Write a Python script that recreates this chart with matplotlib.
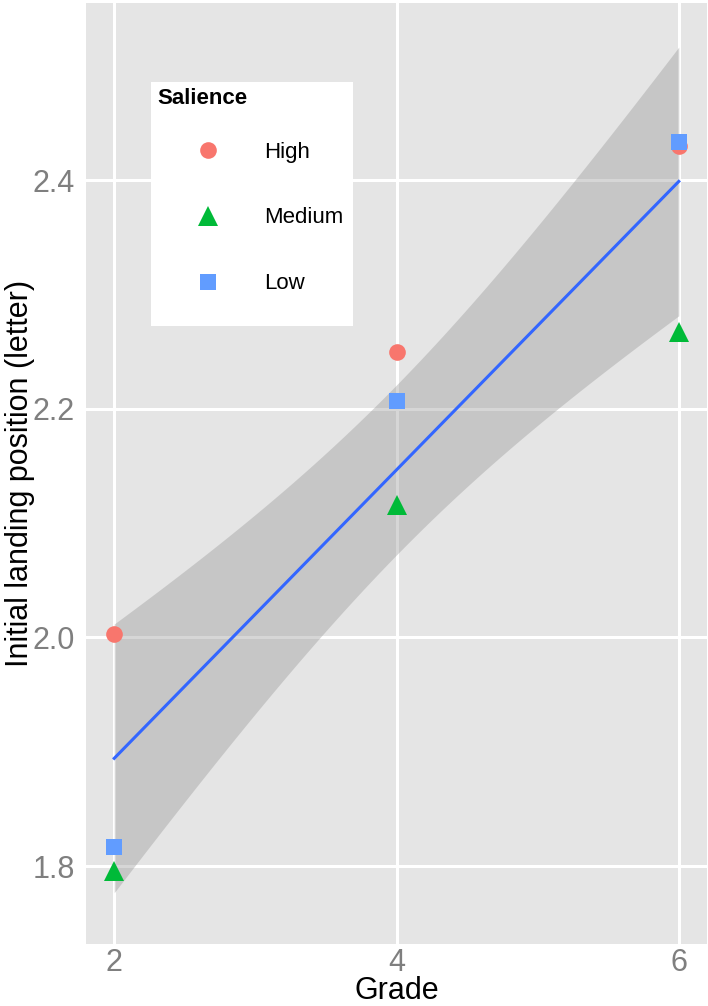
import matplotlib
matplotlib.use("Agg")
import matplotlib.pyplot as plt
from matplotlib.lines import Line2D
import numpy

grades = [2, 4, 6]
salience_levels = ["High", "Medium", "Low"]
landing_high = [2.003, 2.250, 2.430]
landing_medium = [1.796, 2.116, 2.267]
landing_low = [1.817, 2.207, 2.433]

COLORS = {"High": "#F8766D", "Medium": "#00BA38", "Low": "#619CFF"}
MARKERS = {"High": ("o", 12), "Medium": ("^", 14), "Low": ("s", 11.5)}
T_975_DF7 = 2.3646  # t quantile for 95% band, 9 points - 2

plt.rcParams['font.family'] = ['Liberation Sans', 'DejaVu Sans']

fig = plt.figure(figsize=(7.08, 10.06), dpi=100)
ax = fig.add_axes([86 / 708, 62 / 1006, 621 / 708, 941 / 1006])
ax.set_facecolor("#E5E5E5")
for s in ax.spines.values():
    s.set_visible(False)

values = {"High": landing_high, "Medium": landing_medium, "Low": landing_low}

# smooth: linear fit over all points with 95% confidence band
xs = numpy.array(grades * 3, dtype=float)
ys = numpy.array(landing_high + landing_medium + landing_low)
slope, intercept = numpy.polyfit(xs, ys, 1)
resid = ys - (slope * xs + intercept)
s_err = numpy.sqrt(numpy.sum(resid ** 2) / (len(xs) - 2))
sxx = numpy.sum((xs - xs.mean()) ** 2)
x_fit = numpy.linspace(min(grades), max(grades), 80)
y_fit = slope * x_fit + intercept
se_fit = s_err * numpy.sqrt(1.0 / len(xs) + (x_fit - xs.mean()) ** 2 / sxx)
ax.fill_between(x_fit, y_fit - T_975_DF7 * se_fit, y_fit + T_975_DF7 * se_fit,
                color="#999999", alpha=0.4, linewidth=0, zorder=2)
ax.plot(x_fit, y_fit, color="#3366FF", linewidth=2.2, zorder=3)

for level in salience_levels:
    m, ms = MARKERS[level]
    ax.plot(grades, values[level], linestyle="none", marker=m, markersize=ms,
            color=COLORS[level], markeredgewidth=0, zorder=4)

ax.set_xlim(1.8, 6.2)
ax.set_ylim(1.7318, 2.555)
ax.set_xticks([2, 4, 6])
ax.set_yticks([1.8, 2.0, 2.2, 2.4])
ax.set_yticklabels(["1.8", "2.0", "2.2", "2.4"])
ax.grid(True, color="white", linewidth=2.2, zorder=1)
ax.set_axisbelow(True)
ax.tick_params(length=0, labelsize=22, labelcolor="#7F7F7F")
ax.tick_params(axis="y", pad=8)
ax.tick_params(axis="x", pad=3)
ax.set_xlabel("Grade", fontsize=22)
ax.set_ylabel("Initial landing position (letter)", fontsize=22)
ax.xaxis.set_label_coords(0.5, (1006 - 999 - 62) / 941)
ax.yaxis.set_label_coords(-0.107, 0.5)
ax.xaxis.label.set_va("baseline")
ax.yaxis.label.set_va("center")

# legend in a white box inside the panel
lax = fig.add_axes([151 / 708, (1006 - 326) / 1006, 202 / 708, 244 / 1006])
lax.set_facecolor("white")
lax.set_xticks([])
lax.set_yticks([])
for s in lax.spines.values():
    s.set_visible(False)
lax.text(0.03, 0.934, "Salience", fontsize=16, fontweight="bold",
         ha="left", va="center", transform=lax.transAxes)
handles = [Line2D([], [], linestyle="none", marker=MARKERS[l][0], markersize=MARKERS[l][1],
                  color=COLORS[l], markeredgewidth=0) for l in salience_levels]
lax.legend(handles, salience_levels, loc="center left", bbox_to_anchor=(0.193, 0.443),
           frameon=False, fontsize=16, borderpad=0, borderaxespad=0,
           handlelength=1.636, handletextpad=1.68, labelspacing=2.02)

fig.savefig("out.png", dpi=100)
